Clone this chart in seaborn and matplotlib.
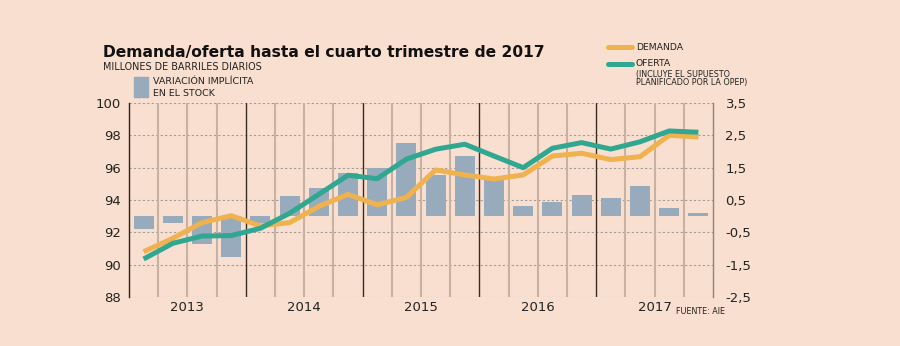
import matplotlib
matplotlib.use("Agg")
import matplotlib.pyplot as plt
from matplotlib.lines import Line2D
from matplotlib.patches import Rectangle
import seaborn as sns
import pandas as pd
import numpy as np

# ---- data ----
years = ["2013", "2014", "2015", "2016", "2017"]
quarters = [f"{y}T{q}" for y in years for q in range(1, 5)]
stock = [-0.40, -0.22, -0.87, -1.26, -0.22, 0.63, 0.87, 1.33, 1.50, 2.27,
         1.27, 1.85, 1.11, 0.31, 0.44, 0.67, 0.57, 0.93, 0.24, 0.11]
demanda = [90.80, 91.63, 92.60, 93.03, 92.40, 92.60, 93.60, 94.35, 93.70, 94.16,
           95.86, 95.55, 95.30, 95.55, 96.72, 96.89, 96.50, 96.68, 98.00, 97.90]
oferta = [90.35, 91.32, 91.77, 91.80, 92.25, 93.18, 94.35, 95.53, 95.32, 96.53,
          97.14, 97.45, 96.72, 96.00, 97.20, 97.55, 97.15, 97.60, 98.27, 98.19]
left_ticks = [88, 90, 92, 94, 96, 98, 100]
right_ticks = [-2.5, -1.5, -0.5, 0.5, 1.5, 2.5, 3.5]
right_labels = ["-2,5", "-1,5", "-0,5", "0,5", "1,5", "2,5", "3,5"]

BG = "#f9dfcf"
ORANGE = "#efb24e"
TEAL = "#30a790"
BAR = "#97abbd"
FONT = "DejaVu Sans"

sns.set_theme(style="white")
plt.rcParams["font.family"] = [FONT]

df = pd.DataFrame({"q": quarters, "x": np.arange(len(quarters)),
                   "stock": stock, "demanda": demanda, "oferta": oferta})

fig = plt.figure(figsize=(9, 3.46), dpi=100, facecolor=BG)
ax = fig.add_axes([129/900, 1-297/346, (713-129)/900, (297-103)/346])
ax2 = ax.twinx()
ax.set_zorder(ax2.get_zorder() + 1)
ax.patch.set_visible(False)
ax2.patch.set_visible(True)
ax2.patch.set_facecolor(BG)

# bars on right axis
sns.barplot(data=df, x="x", y="stock", ax=ax2, color=BAR, width=0.685,
            saturation=1, native_scale=True, zorder=3, edgecolor="none",
            linewidth=0)
ax2.set_ylim(-2.5, 3.5)
ax2.set_xlim(-0.5, 19.5)
# horizontal dotted grid
for t in right_ticks:
    ax2.axhline(t, color="#a49c98", lw=0.8, ls=(0, (2, 2)), zorder=1)
# vertical quarter separators
for k in range(1, 20):
    if k % 4 == 0:
        ax2.axvline(k - 0.5, color="#3a2c24", lw=1.0, zorder=1.5)
    else:
        ax2.axvline(k - 0.5, color="#c6b1a2", lw=1.5, zorder=1.5)

# lines on left axis
sns.lineplot(data=df, x="x", y="demanda", ax=ax, color=ORANGE, lw=3.6,
             zorder=4, solid_capstyle="butt")
sns.lineplot(data=df, x="x", y="oferta", ax=ax, color=TEAL, lw=3.6,
             zorder=5, solid_capstyle="butt")
ax.set_ylim(88, 100)
ax.set_xlim(-0.5, 19.5)

# axes styling
ax.set_yticks(left_ticks)
ax.set_yticklabels([str(t) for t in left_ticks])
ax.tick_params(axis="y", length=0, pad=6, labelsize=9.5, colors="#222222")
ax2.set_yticks(right_ticks)
ax2.set_yticklabels(right_labels)
ax2.tick_params(axis="y", length=0, pad=9, labelsize=9.5, colors="#222222")
ax.set_xticks([1.5, 5.5, 9.5, 13.5, 17.5])
ax.set_xticklabels(years)
ax.tick_params(axis="x", length=0, pad=3, labelsize=9.5, colors="#222222")
ax2.tick_params(axis="x", length=0, labelbottom=False)
ax.set_xlabel("")
ax.set_ylabel("")
ax2.set_xlabel("")
ax2.set_ylabel("")
for a in (ax, ax2):
    for s in a.spines.values():
        s.set_visible(False)
ax.spines["left"].set_visible(True)
ax.spines["left"].set_color("#2a211c")
ax.spines["left"].set_linewidth(1.0)
ax2.spines["right"].set_visible(True)
ax2.spines["right"].set_color("#8a8480")
ax2.spines["right"].set_linewidth(1.0)

# titles and legends
fig.text(103/900, 1-57/346, "Demanda/oferta hasta el cuarto trimestre de 2017",
         fontsize=11.2, fontweight="bold", color="#111111", va="baseline",
         ha="left")
fig.text(103/900, 1-67/346, "MILLONES DE BARRILES DIARIOS", fontsize=6.9,
         color="#222222", va="center", ha="left")
fig.patches.append(Rectangle((134/900, 1-97/346), 14/900, 20/346,
                             transform=fig.transFigure, color=BAR))
fig.text(153/900, 1-81/346, "VARIACIÓN IMPLÍCITA", fontsize=6.8,
         color="#222222", va="center", ha="left")
fig.text(153/900, 1-93/346, "EN EL STOCK", fontsize=6.8,
         color="#222222", va="center", ha="left")

fig.lines.append(Line2D([608/900, 632/900], [1-47/346, 1-47/346],
                        transform=fig.transFigure, color=ORANGE, lw=3.6,
                        solid_capstyle="round"))
fig.text(636/900, 1-47/346, "DEMANDA", fontsize=6.7, color="#222222",
         va="center", ha="left")
fig.lines.append(Line2D([608/900, 632/900], [1-64/346, 1-64/346],
                        transform=fig.transFigure, color=TEAL, lw=3.6,
                        solid_capstyle="round"))
fig.text(636/900, 1-64/346, "OFERTA", fontsize=6.7, color="#222222",
         va="center", ha="left")
fig.text(636/900, 1-74.5/346, "(INCLUYE EL SUPUESTO", fontsize=5.8,
         color="#222222", va="center", ha="left")
fig.text(636/900, 1-83/346, "PLANIFICADO POR LA OPEP)", fontsize=5.8,
         color="#222222", va="center", ha="left")
fig.text(676/900, 1-311/346, "FUENTE: AIE", fontsize=5.8, color="#222222",
         va="center", ha="left")

fig.savefig("out.png", dpi=100, facecolor=BG)
